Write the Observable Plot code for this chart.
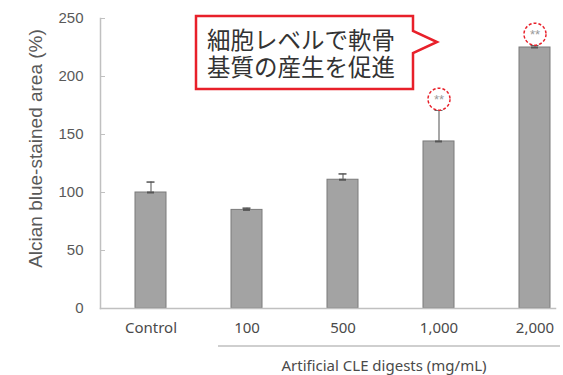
<!DOCTYPE html>
<html>
<head>
<meta charset="utf-8">
<script src="https://cdn.jsdelivr.net/npm/d3@7"></script>
<script src="https://cdn.jsdelivr.net/npm/@observablehq/plot@0.6"></script>
<style>
  html, body { margin: 0; padding: 0; background: #fff; }
  #wrap { position: relative; width: 563px; height: 375px; overflow: hidden; }
  #wrap > svg.overlay { position: absolute; left: 0; top: 0; }
</style>
</head>
<body>
<div id="wrap"></div>
<script>
const categories = ["Control", "100", "500", "1,000", "2,000"];
const values = [100, 85, 111, 144, 225];
const errors = [9, 1.5, 5, 27, 2];
const significant = [false, false, false, true, true];
const yTicks = [0, 50, 100, 150, 200, 250];
const yLabel = "Alcian blue-stained area (%)";
const groupLabel = "Artificial CLE digests (mg/mL)";
const calloutLines = ["細胞レベルで軟骨", "基質の産生を促進"];

const data = categories.map((c, i) => ({cat: c, value: values[i], err: errors[i], sig: significant[i]}));
const sigData = data.filter(d => d.sig);
const axisGray = "#c0c0c0";
const textGray = "#595959";

const plot = Plot.plot({
  width: 563,
  height: 375,
  marginLeft: 100,
  marginRight: 8,
  marginTop: 18,
  marginBottom: 67,
  style: {background: "white", overflow: "visible", fontFamily: "'Liberation Sans', Arial, sans-serif"},
  x: {domain: categories, range: [100, 584], paddingInner: 0.68, paddingOuter: 0.335, label: null},
  y: {domain: [0, 250], label: null},
  marks: [
    Plot.axisY({ticks: yTicks, tickSize: 0, tickPadding: 17, fontSize: 15, fill: textGray, label: null}),
    Plot.axisY({ticks: yTicks, tickSize: 5, dx: 5, text: null, stroke: axisGray, label: null}),
    Plot.axisX({tickSize: 0, tickPadding: 14, fontSize: 15, fill: "#4a4a4a", fontFamily: "'Noto Sans', sans-serif", label: null}),
    Plot.text([yLabel], {frameAnchor: "left", textAnchor: "middle", rotate: -90, dx: -65, dy: -15, fontSize: 19, fill: textGray}),
    Plot.barY(data, {x: "cat", y: "value", fill: "#a3a3a3", stroke: "#7a7a7a", strokeWidth: 1}),
    Plot.ruleX(data, {x: "cat", y1: "value", y2: d => d.value + d.err, stroke: "#8a8a8a", strokeWidth: 1.5}),
    Plot.tickY(data, {x: "cat", y: d => d.value + d.err, insetLeft: 11.5, insetRight: 11.5, stroke: "#555", strokeWidth: 1.5}),
    Plot.tickY(data, {x: "cat", y: "value", insetLeft: 12, insetRight: 12, stroke: "#555", strokeWidth: 2}),
    Plot.frame({anchor: "left", stroke: axisGray, strokeWidth: 1.5}),
    Plot.frame({anchor: "bottom", stroke: axisGray, strokeWidth: 1.5}),
    Plot.dot(sigData, {x: "cat", y: d => d.value + d.err, dy: -11, r: 11, fill: "white", stroke: "#e8202a", strokeWidth: 1.5, strokeDasharray: "3,2"}),
    Plot.text(sigData, {x: "cat", y: d => d.value + d.err, dy: -10, text: () => "**", fill: "#9a9a9a", fontSize: 13})
  ]
});

const wrap = document.getElementById("wrap");
wrap.appendChild(plot);

// Overlay annotations: callout box and category group label
const ov = d3.select(wrap).append("svg").attr("class", "overlay")
  .attr("width", 563).attr("height", 375);

ov.append("polygon")
  .attr("points", "196,16 413,16 413,31 437,42 413,53 413,89 196,89")
  .attr("fill", "white").attr("stroke", "#e8202a").attr("stroke-width", 2.5)
  .attr("stroke-linejoin", "miter");
const callout = ov.append("text")
  .attr("font-family", "'Noto Sans CJK JP', sans-serif").attr("font-size", 23.5)
  .attr("fill", "#333");
calloutLines.forEach((t, i) => {
  callout.append("tspan").attr("x", 207).attr("y", 49 + i * 27).text(t);
});

ov.append("line").attr("x1", 218).attr("x2", 560).attr("y1", 346).attr("y2", 346)
  .attr("stroke", "#a0a0a0").attr("stroke-width", 1.2);
ov.append("text").attr("x", 384).attr("y", 365).attr("text-anchor", "middle")
  .attr("dominant-baseline", "central")
  .attr("font-family", "'Noto Sans', sans-serif").attr("font-size", 15)
  .attr("fill", "#4a4a4a").text(groupLabel);
</script>
</body>
</html>
